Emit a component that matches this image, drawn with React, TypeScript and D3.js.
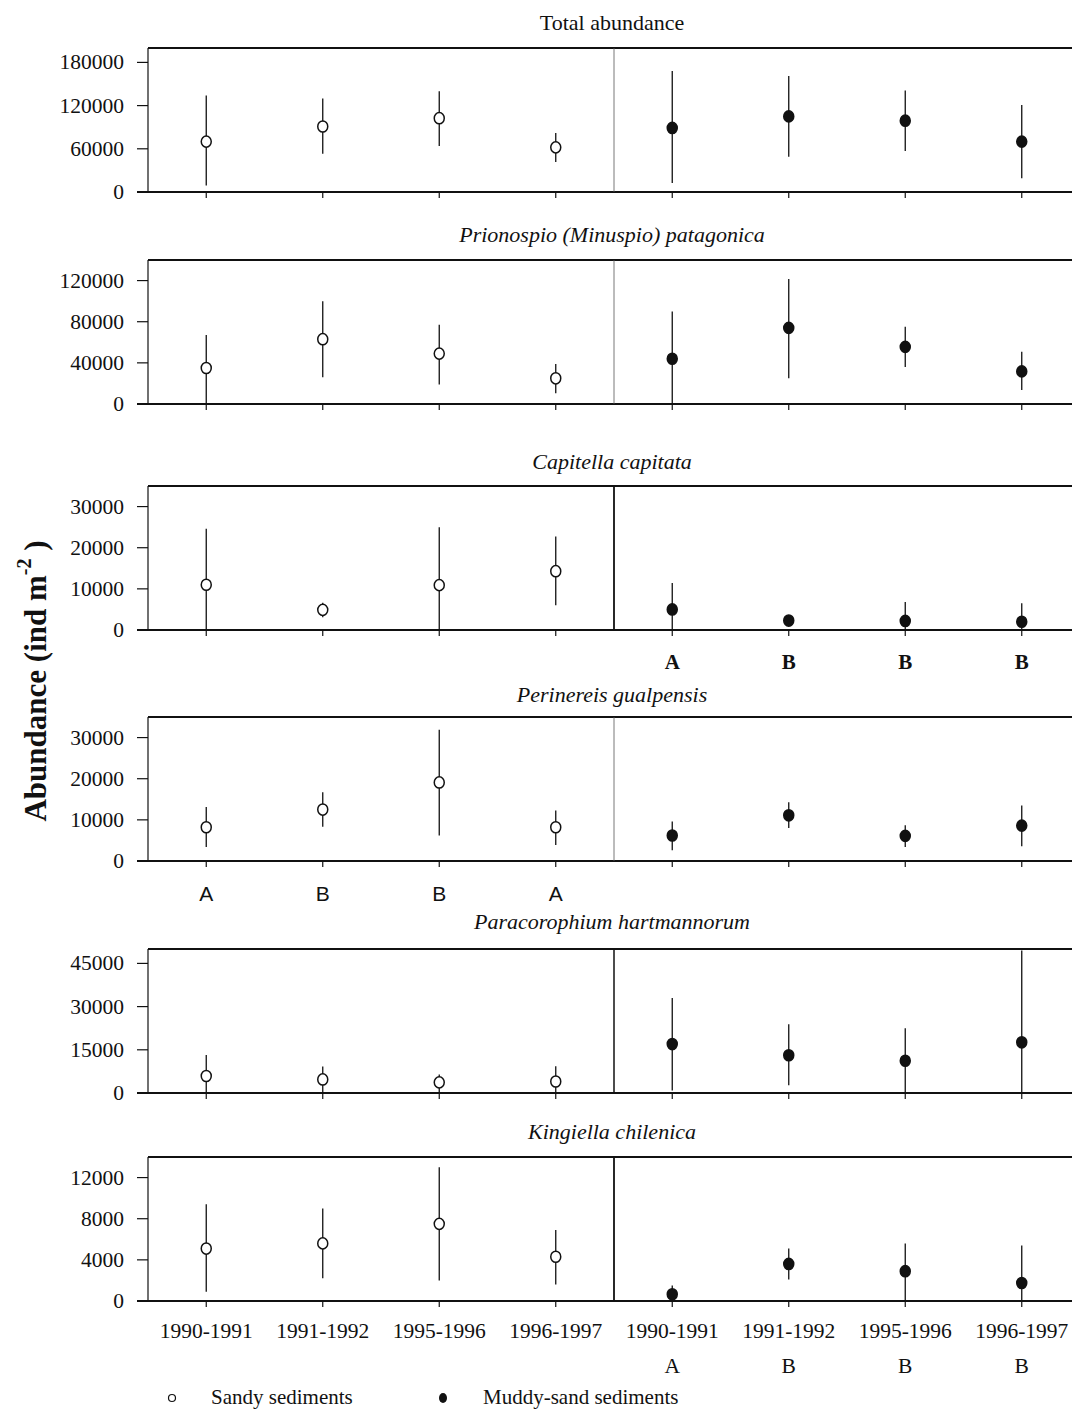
import * as d3 from "d3";

const PERIODS = ["1990-1991", "1991-1992", "1995-1996", "1996-1997"];
const CATEGORIES = [...PERIODS.map((p) => `sandy ${p}`), ...PERIODS.map((p) => `muddy ${p}`)];
const BOTTOM_LETTERS = ["A", "B", "B", "B"];

// first four values: sandy sediments, last four: muddy-sand sediments
const totalMean = [70000, 91000, 102500, 62000, 89000, 105000, 99000, 70000];
const totalLow = [9000, 53000, 64000, 41500, 12500, 49000, 57000, 19000];
const totalHigh = [134000, 130000, 140000, 82000, 168000, 161000, 141000, 121000];

const prionospioMean = [35000, 63000, 49000, 25000, 44000, 74000, 55500, 31700];
const prionospioLow = [0, 26000, 19000, 10500, 0, 25000, 36000, 13700];
const prionospioHigh = [67000, 100000, 77000, 39000, 90000, 121500, 75000, 50700];

const capitellaMean = [11000, 4900, 10900, 14300, 5000, 2300, 2200, 2000];
const capitellaLow = [0, 3100, 0, 6000, 0, 900, 0, 0];
const capitellaHigh = [24600, 6600, 25000, 22700, 11400, 3500, 6800, 6500];
const capitellaLetters = ["A", "B", "B", "B"];

const perinereisMean = [8200, 12500, 19100, 8200, 6200, 11100, 6100, 8600];
const perinereisLow = [3400, 8300, 6200, 3900, 2600, 8000, 3400, 3600];
const perinereisHigh = [13100, 16700, 31900, 12300, 9600, 14300, 8700, 13500];
const perinereisLetters = ["A", "B", "B", "A"];

const paracorophiumMean = [5900, 4700, 3700, 4000, 17000, 13100, 11200, 17600];
const paracorophiumLow = [0, 0, 0, 0, 900, 2700, 0, 0];
const paracorophiumHigh = [13200, 9200, 6400, 9300, 33000, 23900, 22500, 49500];

const kingiellaMean = [5100, 5600, 7500, 4300, 650, 3600, 2900, 1750];
const kingiellaLow = [900, 2200, 2000, 1600, 0, 2100, 0, 0];
const kingiellaHigh = [9400, 9000, 13000, 6900, 1500, 5100, 5600, 5400];

type Panel = {
  title: string;
  italic: boolean;
  top: number;
  titleY: number;
  max: number;
  ticks: number[];
  mean: number[];
  low: number[];
  high: number[];
  divider: number;
  letters?: { side: "sandy" | "muddy"; values: string[]; y: number; font: string; weight: string };
};

const PANEL_HEIGHT = 144;
const LEFT = 148;
const STEP = 116.5;
const RIGHT = LEFT + STEP * 8;

const panels: Panel[] = [
  { title: "Total abundance", italic: false, top: 48, titleY: 30, max: 200000, ticks: [0, 60000, 120000, 180000], mean: totalMean, low: totalLow, high: totalHigh, divider: 0.8 },
  { title: "Prionospio (Minuspio) patagonica", italic: true, top: 260, titleY: 242, max: 140000, ticks: [0, 40000, 80000, 120000], mean: prionospioMean, low: prionospioLow, high: prionospioHigh, divider: 0.8 },
  {
    title: "Capitella capitata", italic: true, top: 486, titleY: 469, max: 35000, ticks: [0, 10000, 20000, 30000], mean: capitellaMean, low: capitellaLow, high: capitellaHigh, divider: 1.8,
    letters: { side: "muddy", values: capitellaLetters, y: 669, font: "'Liberation Serif', serif", weight: "bold" },
  },
  {
    title: "Perinereis gualpensis", italic: true, top: 717, titleY: 702, max: 35000, ticks: [0, 10000, 20000, 30000], mean: perinereisMean, low: perinereisLow, high: perinereisHigh, divider: 0.8,
    letters: { side: "sandy", values: perinereisLetters, y: 901, font: "'Liberation Sans', Arial, sans-serif", weight: "normal" },
  },
  { title: "Paracorophium hartmannorum", italic: true, top: 949, titleY: 929, max: 50000, ticks: [0, 15000, 30000, 45000], mean: paracorophiumMean, low: paracorophiumLow, high: paracorophiumHigh, divider: 1.5 },
  { title: "Kingiella chilenica", italic: true, top: 1157, titleY: 1139, max: 14000, ticks: [0, 4000, 8000, 12000], mean: kingiellaMean, low: kingiellaLow, high: kingiellaHigh, divider: 1.8 },
];

const SERIF = "'Liberation Serif', 'Times New Roman', serif";
const INK = "#111";

function PanelView({ panel, showLabels }: { panel: Panel; showLabels: boolean }) {
  const x = d3.scaleBand<string>().domain(CATEGORIES).range([LEFT, RIGHT]).padding(0);
  const bottom = panel.top + PANEL_HEIGHT;
  const y = d3.scaleLinear().domain([0, panel.max]).range([bottom, panel.top]);
  const cx = (c: string) => (x(c) ?? 0) + x.bandwidth() / 2;
  const dividerX = x(CATEGORIES[4]) ?? 0;

  return (
    <g>
      <text x={(LEFT + RIGHT) / 2 - 2} y={panel.titleY} textAnchor="middle" fontFamily={SERIF} fontSize={22} fontStyle={panel.italic ? "italic" : "normal"} fill={INK}>
        {panel.title}
      </text>
      {/* frame */}
      <line x1={LEFT} x2={RIGHT} y1={panel.top} y2={panel.top} stroke={INK} strokeWidth={2} />
      <line x1={LEFT} x2={LEFT} y1={panel.top} y2={bottom} stroke={INK} strokeWidth={1.2} />
      <line x1={LEFT - 11} x2={RIGHT} y1={bottom} y2={bottom} stroke={INK} strokeWidth={2} />
      <line x1={dividerX} x2={dividerX} y1={panel.top} y2={bottom} stroke={panel.divider > 1 ? INK : "#555"} strokeWidth={panel.divider} />
      {/* y axis */}
      {panel.ticks.map((t) => (
        <g key={t}>
          <line x1={LEFT - 11} x2={LEFT} y1={y(t)} y2={y(t)} stroke={INK} strokeWidth={1.2} />
          <text x={124} y={y(t) + 7} textAnchor="end" fontFamily={SERIF} fontSize={21.5} fill={INK}>
            {t}
          </text>
        </g>
      ))}
      {/* x ticks */}
      {CATEGORIES.map((c) => (
        <line key={c} x1={cx(c)} x2={cx(c)} y1={bottom} y2={bottom + 6} stroke={INK} strokeWidth={1.2} />
      ))}
      {/* error bars and means */}
      {CATEGORIES.map((c, i) => {
        const muddy = i >= 4;
        return (
          <g key={c}>
            <line x1={cx(c)} x2={cx(c)} y1={y(panel.low[i])} y2={y(panel.high[i])} stroke={INK} strokeWidth={1.3} />
            <ellipse cx={cx(c)} cy={y(panel.mean[i])} rx={5} ry={5.6} fill={muddy ? INK : "#fff"} stroke={INK} strokeWidth={1.5} />
          </g>
        );
      })}
      {panel.letters &&
        panel.letters.values.map((l, i) => {
          const c = CATEGORIES[(panel.letters!.side === "sandy" ? 0 : 4) + i];
          return (
            <text key={i} x={cx(c)} y={panel.letters!.y} textAnchor="middle" fontFamily={panel.letters!.font} fontWeight={panel.letters!.weight} fontSize={21} fill={INK}>
              {l}
            </text>
          );
        })}
      {showLabels && (
        <g>
          {CATEGORIES.map((c, i) => (
            <text key={c} x={cx(c)} y={bottom + 37} textAnchor="middle" fontFamily={SERIF} fontSize={21.5} fill={INK}>
              {PERIODS[i % 4]}
            </text>
          ))}
          {BOTTOM_LETTERS.map((l, i) => (
            <text key={i} x={cx(CATEGORIES[4 + i])} y={bottom + 72} textAnchor="middle" fontFamily={SERIF} fontSize={21.5} fill={INK}>
              {l}
            </text>
          ))}
        </g>
      )}
    </g>
  );
}

export default function App() {
  return (
    <svg width={1072} height={1411} style={{ position: "absolute", left: 0, top: 0, background: "#fff" }}>
      {panels.map((p, i) => (
        <PanelView key={p.title} panel={p} showLabels={i === panels.length - 1} />
      ))}
      <text transform="translate(46,681) rotate(-90)" textAnchor="middle" fontFamily={SERIF} fontWeight="bold" fontSize={31} fill={INK}>
        Abundance (ind m
        <tspan dy={-15} fontSize={20}>-2</tspan>
        <tspan dy={15}> )</tspan>
      </text>
      {/* legend */}
      <circle cx={172} cy={1398} r={3.5} fill="#fff" stroke={INK} strokeWidth={1.2} />
      <text x={211} y={1404} fontFamily={SERIF} fontSize={21} fill={INK}>Sandy sediments</text>
      <ellipse cx={443} cy={1398} rx={4} ry={5} fill={INK} />
      <text x={483} y={1404} fontFamily={SERIF} fontSize={21} fill={INK}>Muddy-sand sediments</text>
    </svg>
  );
}
